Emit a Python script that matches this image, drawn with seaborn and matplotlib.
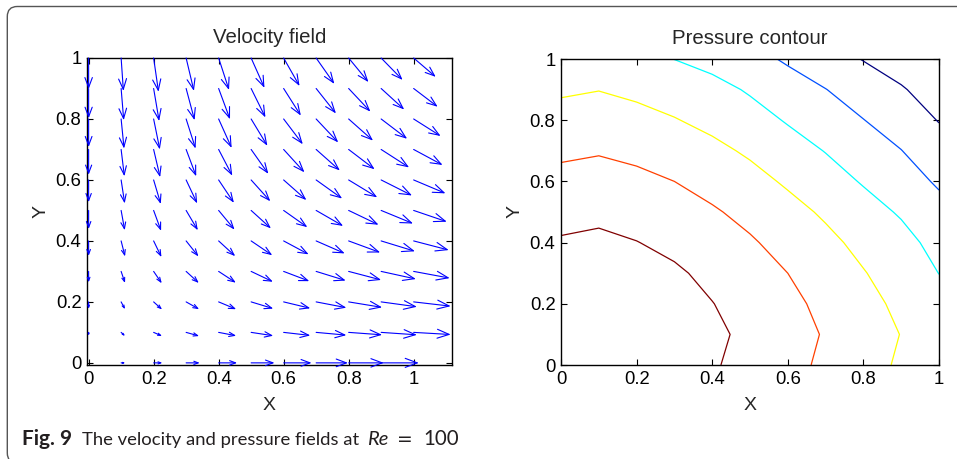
import numpy as np
import matplotlib
matplotlib.use("Agg")
import matplotlib.pyplot as plt
from matplotlib.patches import FancyBboxPatch, ArrowStyle
from matplotlib.transforms import IdentityTransform
import seaborn as sns

GRID = [0.0, 0.1, 0.2, 0.3, 0.4, 0.5, 0.6, 0.7, 0.8, 0.9, 1.0]

# arrow components (rows: y = 0 .. 1, cols: x = 0 .. 1)
U_VEL = [
    [0, .013, .027, .042, .057, .072, .086, .098, .108, .116, .120],
    [0, .012, .026, .040, .054, .068, .082, .093, .103, .110, .114],
    [0, .012, .026, .040, .054, .068, .082, .093, .103, .110, .114],
    [0, .012, .025, .039, .053, .067, .079, .091, .100, .107, .111],
    [0, .012, .024, .038, .051, .065, .077, .088, .097, .104, .108],
    [0, .011, .023, .036, .049, .061, .073, .083, .092, .098, .102],
    [0, .011, .022, .034, .047, .059, .070, .080, .088, .095, .098],
    [0, .010, .020, .031, .042, .053, .064, .073, .080, .086, .089],
    [0, .009, .019, .029, .040, .050, .059, .068, .075, .080, .083],
    [0, .008, .017, .026, .035, .044, .053, .061, .067, .071, .074],
    [0, .007, .015, .024, .032, .041, .049, .056, .061, .066, .068],
]
V_VEL = [
    [0, 0, 0, 0, 0, 0, 0, 0, 0, 0, 0],
    [-.011, -.012, -.012, -.012, -.011, -.011, -.010, -.009, -.008, -.008, -.007],
    [-.023, -.024, -.025, -.024, -.024, -.022, -.021, -.019, -.018, -.016, -.014],
    [-.036, -.038, -.039, -.038, -.037, -.034, -.032, -.030, -.028, -.025, -.022],
    [-.049, -.051, -.053, -.051, -.050, -.047, -.044, -.041, -.038, -.034, -.030],
    [-.061, -.065, -.067, -.065, -.063, -.059, -.055, -.051, -.047, -.043, -.037],
    [-.073, -.077, -.079, -.077, -.075, -.070, -.066, -.061, -.057, -.051, -.044],
    [-.083, -.088, -.091, -.088, -.086, -.080, -.075, -.069, -.065, -.059, -.051],
    [-.092, -.097, -.100, -.097, -.095, -.088, -.083, -.077, -.071, -.065, -.056],
    [-.098, -.104, -.107, -.104, -.101, -.095, -.089, -.082, -.076, -.069, -.060],
    [-.102, -.108, -.111, -.108, -.105, -.098, -.092, -.085, -.079, -.072, -.062],
]

# pressure on the same grid, matched to the contour crossings of the figure
PRESSURE = [
    [1.00, 0.52, 0.04, -0.44, -0.91, -1.30, -1.71, -2.18, -2.67, -3.12, -3.47],
    [0.52, 0.17, -0.17, -0.51, -0.82, -1.20, -1.64, -2.07, -2.59, -3.02, -3.57],
    [0.04, -0.17, -0.40, -0.66, -0.98, -1.33, -1.77, -2.23, -2.71, -3.20, -3.75],
    [-0.44, -0.51, -0.66, -0.88, -1.20, -1.58, -2.00, -2.46, -2.95, -3.45, -4.01],
    [-0.91, -0.82, -0.98, -1.20, -1.51, -1.90, -2.31, -2.76, -3.26, -3.72, -4.28],
    [-1.30, -1.20, -1.33, -1.58, -1.90, -2.25, -2.68, -3.14, -3.66, -4.09, -4.67],
    [-1.71, -1.64, -1.77, -2.00, -2.31, -2.68, -3.13, -3.63, -4.07, -4.55, -5.13],
    [-2.18, -2.07, -2.23, -2.46, -2.76, -3.14, -3.63, -4.03, -4.49, -4.98, -5.59],
    [-2.67, -2.59, -2.71, -2.95, -3.26, -3.66, -4.07, -4.49, -4.98, -5.46, -6.04],
    [-3.12, -3.02, -3.20, -3.45, -3.72, -4.09, -4.55, -4.98, -5.46, -5.92, -6.42],
    [-3.47, -3.57, -3.75, -4.01, -4.28, -4.67, -5.13, -5.59, -6.04, -6.42, -6.80],
]
LEVELS = [-6, -5, -4, -3, -2, -1]
LEVEL_COLORS = ["#000080", "#0050ff", "#00ffff", "#ffff00", "#ff4000", "#800000"]

sns.set_theme(style="ticks")
plt.rcParams["font.family"] = ["Liberation Sans", "DejaVu Sans"]

fig = plt.figure(figsize=(9.57, 4.59), dpi=100)
ax1 = fig.add_axes([87 / 957, 1 - 365 / 459, 365 / 957, 307 / 459])
ax2 = fig.add_axes([561 / 957, 1 - 365 / 459, 378 / 957, 306 / 459])

# --- velocity field -------------------------------------------------
ax1.set_xlim(-0.005, 1.118)
ax1.set_ylim(-0.007, 1.0)
for j, y in enumerate(GRID):
    for i, x in enumerate(GRID):
        u, v = U_VEL[j][i], V_VEL[j][i]
        if u == 0 and v == 0:
            continue
        p0 = ax1.transData.transform((x, y))
        p1 = ax1.transData.transform((x + u, y + v))
        L = np.hypot(*(p1 - p0)) * 72 / fig.dpi
        style = ArrowStyle("->", head_length=0.32 * L, head_width=0.12 * L)
        ax1.annotate("", xy=(x + u, y + v), xytext=(x, y),
                     arrowprops=dict(arrowstyle=style, color="blue", lw=0.8,
                                     shrinkA=0, shrinkB=0, mutation_scale=1))
ax1.set_title("Velocity field", fontsize=14.7, pad=11)

# --- pressure contour -----------------------------------------------
ax2.contour(GRID, GRID, PRESSURE, levels=LEVELS, colors=LEVEL_COLORS, linewidths=0.9)
ax2.set_xlim(0, 1)
ax2.set_ylim(0, 1)
ax2.set_title("Pressure contour", fontsize=14.7, pad=11)

ticks = [0, 0.2, 0.4, 0.6, 0.8, 1]
for ax in (ax1, ax2):
    ax.set_xticks(ticks)
    ax.set_yticks(ticks)
    ax.set_xticklabels([f"{t:g}" for t in ticks])
    ax.set_yticklabels([f"{t:g}" for t in ticks])
    ax.tick_params(direction="in", top=True, right=True, length=4, width=0.8,
                   labelsize=13.3, pad=4, colors="black")
    for s in ax.spines.values():
        s.set_linewidth(1.0)
        s.set_color("black")
    ax.set_xlabel("X", fontsize=14, labelpad=7)
    ax.set_ylabel("Y", fontsize=14, labelpad=4)
    ax.grid(False)

# journal frame and caption
frame = FancyBboxPatch((7.3, -4), 1000, 456.5, boxstyle="round,pad=0,rounding_size=10",
                       transform=IdentityTransform(), fill=False, ec="#555555", lw=1.0)
fig.add_artist(frame)

renderer = fig.canvas.get_renderer()
pieces = [("Fig. 9", 15, "bold", "normal", 10, "Lato"),
          ("The velocity and pressure fields at", 13.3, "normal", "normal", 8, "Lato"),
          ("Re", 14.5, "normal", "italic", 8, "Lato"),
          ("=", 13.5, "normal", "normal", 11, "DejaVu Sans"),
          ("100", 14.8, "normal", "normal", 0, "Lato")]
xpx = 22
for s, size, wt, st, gap, fam in pieces:
    t = fig.text(xpx / 957, 1 - 445 / 459, s, fontsize=size, fontweight=wt, fontstyle=st,
                 family=[fam, "DejaVu Sans"], color="#231f20", va="baseline")
    xpx = t.get_window_extent(renderer).x1 + gap

fig.savefig("out.png", dpi=100)
